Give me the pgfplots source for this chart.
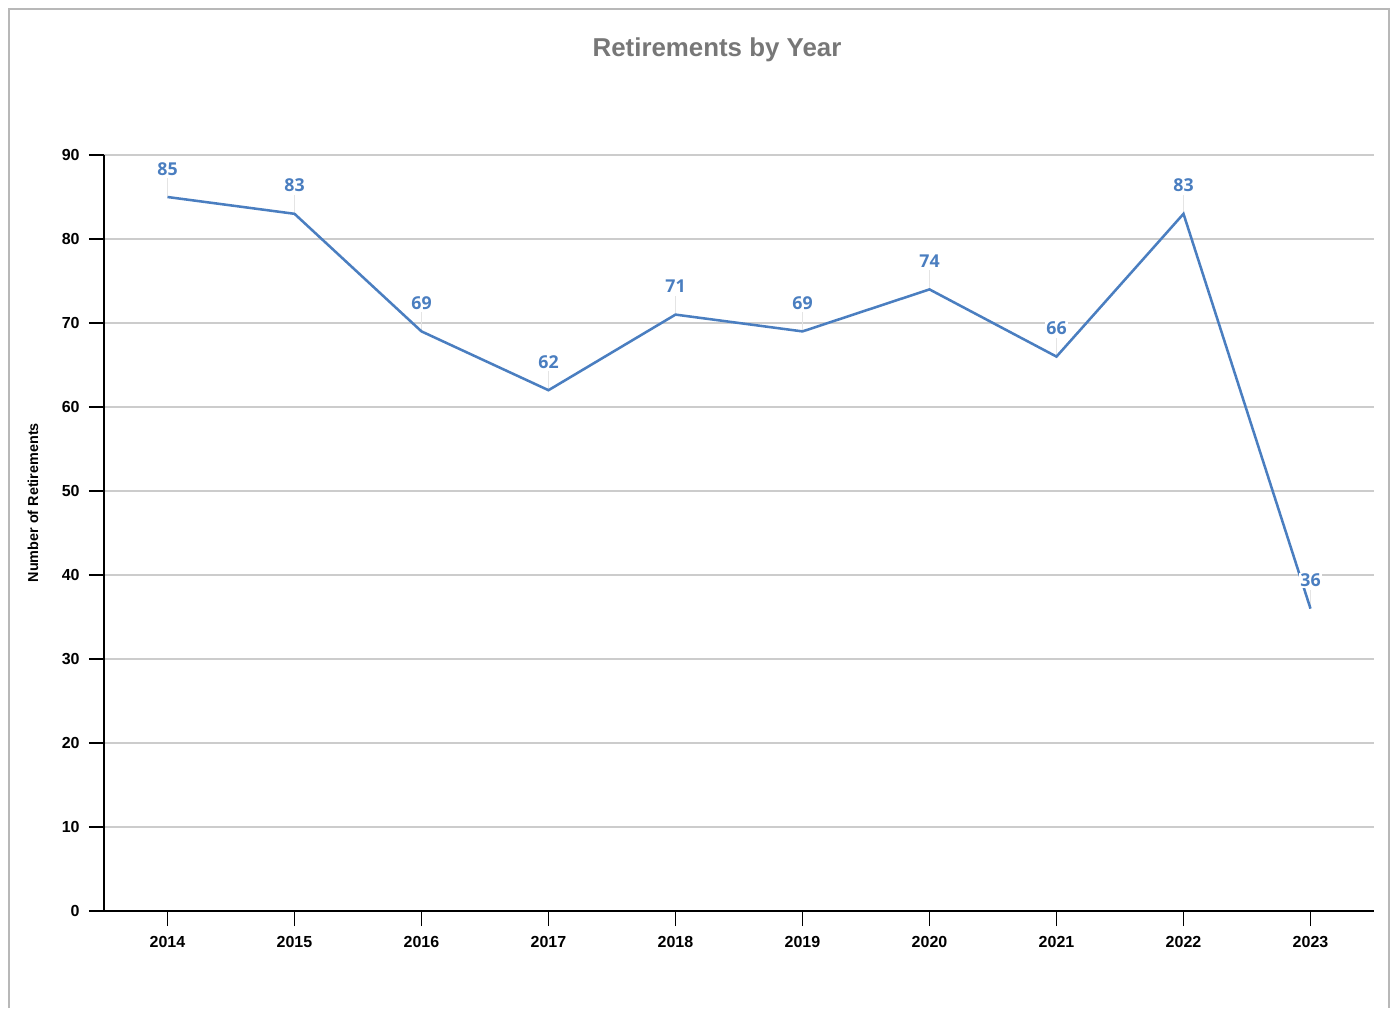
\documentclass[border=0pt]{standalone}
\usepackage{pgfplots}
\pgfplotsset{compat=1.18}
\usepackage{fontspec}
\setmainfont{Liberation Sans}
\newfontfamily\labelfont{Open Sans}
\definecolor{lineblue}{HTML}{4A7EC0}
\definecolor{gridgray}{HTML}{CCCCCC}
\definecolor{titlegray}{HTML}{777777}
\definecolor{framegray}{HTML}{B8B8B8}
\definecolor{leadergray}{HTML}{E4E4E4}
\begin{document}
\begin{tikzpicture}
\path[use as bounding box] (0pt,0pt) rectangle (1042.5pt,756pt);
\draw[framegray, line width=1.1pt] (6.75pt,0pt) -- (6.75pt,749.25pt) -- (1041.75pt,749.25pt) -- (1041.75pt,0pt);
\node[font=\bfseries\fontsize{19.4}{22}\selectfont, text=titlegray] at (537.75pt,718.5pt) {Retirements by Year};
\begin{axis}[
  at={(78pt,72.75pt)}, anchor=south west,
  scale only axis, width=952.5pt, height=567pt,
  xmin=-0.5, xmax=9.5, ymin=0, ymax=90,
  axis x line*=bottom, axis y line*=left,
  axis line style={black, line width=1pt},
  xtick={0,...,9},
  xticklabels={2014,2015,2016,2017,2018,2019,2020,2021,2022,2023},
  ytick={0,10,...,90},
  tick align=outside, major tick length=11.25pt,
  tick style={black, line width=1pt},
  ymajorgrids, grid style={gridgray, line width=0.8pt},
  /pgf/number format/assume math mode=true,
  ticklabel style={font=\bfseries\fontsize{12}{13}\selectfont},
  xticklabel style={yshift=-4.5pt},
  yticklabel style={xshift=-3.5pt},
  ylabel={Number of Retirements},
  every axis y label/.style={at={(axis description cs:-0.0559,0.54)}, rotate=90, anchor=center, font=\bfseries\fontsize{10.8}{13}\selectfont},
  clip=false,
]
\addplot[leadergray, line width=0.7pt, draw=none,
  error bars/.cd, y dir=plus, y explicit, error bar style={leadergray, line width=0.8pt}, error mark=none]
  table[x=x, y=y, y error=e] {
x y e
0 85 2.26
1 83 2.26
2 69 2.26
3 62 2.26
4 71 2.26
5 69 2.26
6 74 2.26
7 66 2.26
8 83 2.26
9 36 2.26
};
\addplot[lineblue, line width=1.9pt, mark=none,
  nodes near coords,
  every node near coord/.append style={anchor=base, yshift=16.5pt, font=\labelfont\bfseries\fontsize{13.3}{14}\selectfont, text=lineblue, fill=white, inner sep=0.8pt}]
  coordinates {(0,85) (1,83) (2,69) (3,62) (4,71) (5,69) (6,74) (7,66) (8,83) (9,36)};
\end{axis}
\end{tikzpicture}
\end{document}
